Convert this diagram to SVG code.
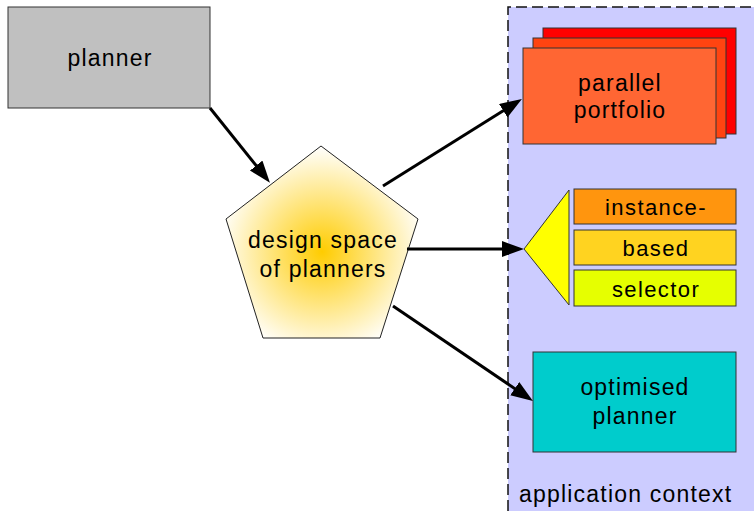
<svg xmlns="http://www.w3.org/2000/svg" width="754" height="511" viewBox="0 0 754 511">
  <style>
    .box { stroke: #333333; stroke-width: 1; }
    .lbl { font-family: "Liberation Sans", Arial, sans-serif; font-size: 23px; letter-spacing: 1.2px; fill: #000000; text-anchor: middle; }
    .sel { font-size: 22px; letter-spacing: 1.4px; }
    .conn { stroke: #000000; stroke-width: 3; fill: none; marker-end: url(#head); }
  </style>
  <defs>
    <marker id="head" markerUnits="userSpaceOnUse" markerWidth="24" markerHeight="18" refX="9" refY="8" orient="auto">
      <path d="M0,0 L22,8 L0,16 z" fill="#000000"/>
    </marker>
    <radialGradient id="glow" cx="50%" cy="55%" r="55%">
      <stop offset="0" stop-color="#ffcc00"/>
      <stop offset="1" stop-color="#ffffff"/>
    </radialGradient>
  </defs>

  <rect width="754" height="511" fill="#ffffff"/>

  <!-- application context area -->
  <g id="context">
    <rect x="508" y="7" width="250" height="510" fill="#ccccff"/>
    <path d="M508,511 L508,7 L754,7" fill="none" stroke="#111111" stroke-width="1.5" stroke-dasharray="11,5"/>
    <text x="519" y="502" class="lbl" style="text-anchor:start">application context</text>
  </g>

  <g id="planner">
    <rect x="8" y="7" width="202" height="101" fill="#c0c0c0" class="box"/>
    <text x="110" y="66" class="lbl">planner</text>
  </g>

  <g id="design-space">
    <polygon points="321,146 418,219 380,338 263,338 226,219" fill="url(#glow)" stroke="#222222" stroke-width="1"/>
    <text x="323" y="248" class="lbl">design space</text>
    <text x="323" y="277" class="lbl">of planners</text>
  </g>

  <g id="parallel-portfolio">
    <rect x="543" y="28" width="193" height="106" fill="#ff0000" class="box"/>
    <rect x="533" y="38" width="193" height="100" fill="#ff4411" class="box"/>
    <rect x="523" y="48" width="193" height="96" fill="#ff6633" class="box"/>
    <text x="620" y="91" class="lbl">parallel</text>
    <text x="620" y="118" class="lbl">portfolio</text>
  </g>

  <g id="instance-based-selector">
    <polygon points="524,249 569,190 569,305" fill="#ffff00" class="box"/>
    <rect x="574" y="189" width="162" height="35" fill="#ff950e" class="box"/>
    <rect x="574" y="230" width="162" height="35" fill="#ffd320" class="box"/>
    <rect x="574" y="270" width="162" height="36" fill="#e6ff00" class="box"/>
    <text x="656" y="215" class="lbl sel">instance-</text>
    <text x="656" y="256" class="lbl sel">based</text>
    <text x="656" y="297" class="lbl sel">selector</text>
  </g>

  <g id="optimised-planner">
    <rect x="533" y="352" width="203" height="100" fill="#00cccc" class="box"/>
    <text x="635" y="395" class="lbl">optimised</text>
    <text x="635" y="424" class="lbl">planner</text>
  </g>

  <g id="connectors">
    <line x1="210" y1="108" x2="261.8" y2="172.6" class="conn"/>
    <line x1="383" y1="186" x2="510.9" y2="105.9" class="conn"/>
    <line x1="407" y1="249" x2="511" y2="249" class="conn"/>
    <line x1="393" y1="306" x2="522.2" y2="393.7" class="conn"/>
  </g>
</svg>
